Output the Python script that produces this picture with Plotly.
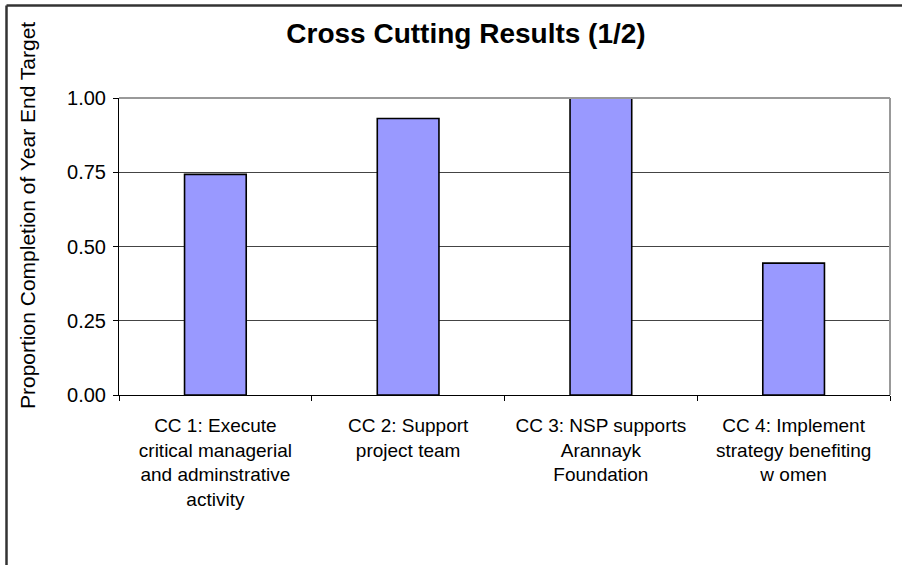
import plotly.graph_objects as go

categories = [
    "CC 1: Execute<br>critical managerial<br>and adminstrative<br>activity",
    "CC 2: Support<br>project team",
    "CC 3: NSP supports<br>Arannayk<br>Foundation",
    "CC 4: Implement<br>strategy benefiting<br>w omen",
]
completion = [0.743, 0.931, 1.00, 0.444]
y_ticks = [0.0, 0.25, 0.50, 0.75, 1.00]
y_tick_labels = ["0.00", "0.25", "0.50", "0.75", "1.00"]

W, H = 902, 565
L, R, T, B = 119, 12, 98, 170

fig = go.Figure(
    go.Bar(
        x=categories,
        y=completion,
        marker=dict(color="#9999FF", line=dict(color="#000000", width=1.6)),
        width=0.32,
        hoverinfo="skip",
    )
)

font_family = "Liberation Sans, Arial, sans-serif"

fig.update_layout(
    width=W,
    height=H,
    margin=dict(l=L, r=R, t=T, b=B, pad=0),
    paper_bgcolor="white",
    plot_bgcolor="white",
    showlegend=False,
    font=dict(family=font_family, color="#000000"),
    title=dict(
        text="<b>Cross Cutting Results (1/2)</b>",
        x=466 / W,
        xanchor="center",
        y=1 - 33 / H,
        yanchor="middle",
        font=dict(size=28, family=font_family, color="#000000"),
    ),
    xaxis=dict(
        type="category",
        showgrid=False,
        showline=True,
        linecolor="#000000",
        linewidth=1,
        ticks="outside",
        tickson="boundaries",
        ticklen=5,
        tickcolor="#000000",
        tickfont=dict(size=19),
        ticklabelstandoff=13,
        zeroline=False,
    ),
    yaxis=dict(
        range=[0, 1],
        tickvals=y_ticks,
        ticktext=y_tick_labels,
        showgrid=True,
        gridcolor="#444444",
        gridwidth=1,
        showline=True,
        linecolor="#000000",
        linewidth=1,
        ticks="outside",
        ticklen=5,
        tickcolor="#000000",
        tickfont=dict(size=20),
        ticklabelstandoff=3,
        zeroline=False,
    ),
    shapes=[
        # grey frame on the top and right of the plot area
        dict(type="line", xref="paper", yref="paper", x0=0, x1=1, y0=1, y1=1,
             line=dict(color="#999999", width=2)),
        dict(type="line", xref="paper", yref="paper", x0=1, x1=1, y0=0, y1=1,
             line=dict(color="#999999", width=2)),
        # outer chart border
        dict(type="line", xref="paper", yref="paper",
             x0=(6.5 - L) / (W - L - R), x1=(W + 20 - L) / (W - L - R),
             y0=1 + (T - 5.5) / (H - T - B), y1=1 + (T - 5.5) / (H - T - B),
             line=dict(color="#333333", width=2.5)),
        dict(type="line", xref="paper", yref="paper",
             x0=(6.5 - L) / (W - L - R), x1=(6.5 - L) / (W - L - R),
             y0=-(H + 20 - (H - B)) / (H - T - B), y1=1 + (T - 5.5) / (H - T - B),
             line=dict(color="#333333", width=2.5)),
    ],
    annotations=[
        dict(
            text="Proportion Completion of Year End Target",
            xref="paper", yref="paper",
            x=(27 - L) / (W - L - R), y=(H - B - 216) / (H - T - B),
            xanchor="center", yanchor="middle",
            textangle=-90,
            showarrow=False,
            font=dict(size=21, family=font_family, color="#000000"),
        )
    ],
)

fig.write_html("out.html")
